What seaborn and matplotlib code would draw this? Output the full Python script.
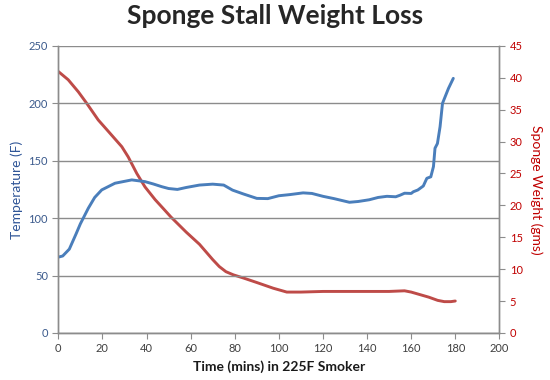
import pandas as pd
import matplotlib.pyplot as plt
import seaborn as sns

# data
temp_time = [0, 2, 5, 8, 10, 13.6, 16.5, 19.7, 25.7, 33.3, 39.3, 43, 46.9, 50, 54, 58, 64,
             70, 75, 79, 84, 90, 95, 100, 105, 111, 115, 120, 125, 132, 136, 141, 145, 149,
             153, 155, 157, 160, 161, 163, 165.5, 167.1, 168.9, 170.1, 170.8, 171.9, 173.1,
             174.2, 175.4, 176.9, 179.1]
temp_f = [66, 67, 73, 86, 95, 108.6, 118, 124.6, 130.4, 133.3, 131.8, 129.8, 127.4, 125.8,
          125, 126.7, 128.8, 129.6, 128.8, 124.4, 121, 117.2, 117, 119.5, 120.5, 122, 121.5,
          119, 117, 113.8, 114.5, 116, 118, 119, 118.6, 120, 121.7, 121.5, 123, 124.5, 128,
          134.7, 136, 144.9, 160.9, 165, 179.7, 200, 205.8, 213, 221.8]

weight_time = [0, 4.5, 9.1, 12.9, 18.1, 22.7, 28.8, 31.7, 35.6, 39.3, 43.9, 47.6, 51, 58, 64,
               70, 73, 76, 79.4, 84, 90, 97.5, 103.6, 110, 120, 130, 140, 150, 157, 160, 164,
               168, 172, 175, 178, 180]
weight_g = [41, 39.7, 37.8, 36.0, 33.4, 31.6, 29.2, 27.6, 25.0, 22.9, 20.9, 19.5, 18.2, 15.8,
            13.9, 11.5, 10.4, 9.6, 9.1, 8.6, 7.9, 7.0, 6.4, 6.4, 6.5, 6.5, 6.5, 6.5, 6.6, 6.4,
            6.0, 5.6, 5.1, 4.9, 4.9, 5.0]

temp_df = pd.DataFrame({'time': temp_time, 'temp': temp_f})
weight_df = pd.DataFrame({'time': weight_time, 'weight': weight_g})

sns.set_style('white')
plt.rcParams['font.family'] = ['Lato', 'DejaVu Sans']

grid_col = '#8c8c8c'
blue = '#4a7ebb'
red = '#be4b48'

fig = plt.figure(figsize=(5.5, 3.8), dpi=100)
ax = fig.add_axes([0.106, 0.124, 0.802, 0.755])
ax2 = ax.twinx()

sns.lineplot(data=temp_df, x='time', y='temp', ax=ax, color=blue, linewidth=2.1)
sns.lineplot(data=weight_df, x='time', y='weight', ax=ax2, color=red, linewidth=2.1)

ax.set_xlim(0, 200)
ax.set_ylim(0, 250)
ax2.set_ylim(0, 45)
ax.set_xticks(range(0, 201, 20))
ax.set_yticks(range(0, 251, 50))
ax2.set_yticks(range(0, 46, 5))

ax.grid(axis='y', color=grid_col, linewidth=1)
ax.set_axisbelow(True)
ax.set_zorder(ax2.get_zorder() + 1)
ax.patch.set_visible(False)

for a in (ax, ax2):
    a.spines['top'].set_visible(False)
    for s in ('left', 'right', 'bottom'):
        a.spines[s].set_color(grid_col)
        a.spines[s].set_linewidth(1)

ax.tick_params(axis='x', direction='out', length=4, color=grid_col, labelsize=8, labelcolor='#404040', bottom=True)
ax.tick_params(axis='y', direction='out', length=4, color=grid_col, labelsize=8, labelcolor='#3b5a8c', left=True)
ax2.tick_params(axis='y', direction='out', length=4, color=grid_col, labelsize=8, labelcolor='#c00000', right=True)

ax.set_xlabel('Time (mins) in 225F Smoker', fontsize=10, fontweight='bold', color='#1a1a1a', labelpad=4)
ax.set_ylabel('Temperature (F)', fontsize=10, color='#2f5597', labelpad=4)
ax2.set_ylabel('Sponge Weight (gms)', fontsize=10, color='#c00000', rotation=270, labelpad=14)

fig.suptitle('Sponge Stall Weight Loss', fontsize=19, fontweight='bold', y=0.99)

plt.savefig('out.png', dpi=100)
